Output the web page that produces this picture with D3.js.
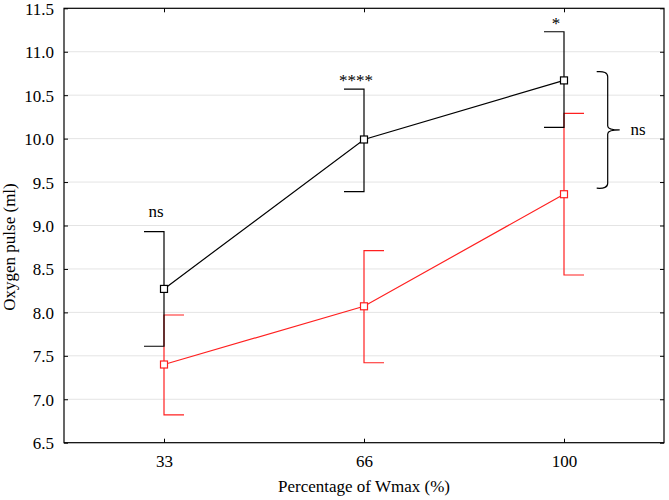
<!DOCTYPE html>
<html>
<head>
<meta charset="utf-8">
<script src="https://cdn.jsdelivr.net/npm/d3@7"></script>
<style>
  html, body { margin: 0; padding: 0; background: #fff; }
  svg { display: block; }
  text { font-family: "Liberation Serif", "Times New Roman", serif; fill: #000; }
</style>
</head>
<body>
<svg id="chart" width="669" height="500"></svg>
<script>
// ---- data ----
const categories = ["33", "66", "100"];
const blackMean  = [8.27, 9.99, 10.67];
const blackUpper = [8.93, 10.57, 11.23];
const blackLower = [7.61, 9.39, 10.13];
const redMean    = [7.40, 8.07, 9.36];
const redUpper   = [7.97, 8.71, 10.29];
const redLower   = [6.82, 7.42, 8.43];
const sigLabels  = ["ns", "****", "*"];
const yTicks     = [6.5, 7.0, 7.5, 8.0, 8.5, 9.0, 9.5, 10.0, 10.5, 11.0, 11.5];
const bracketRange = [9.43, 10.77];
const bracketLabel = "ns";
const xTitle = "Percentage of Wmax (%)";
const yTitle = "Oxygen pulse (ml)";

// ---- layout ----
const svg = d3.select("#chart");
const L = 64, R = 664, T = 8.3, B = 442.7;
const x = d3.scalePoint().domain(categories).range([L, R]).padding(0.5);
const y = d3.scaleLinear().domain([6.5, 11.5]).range([B, T]);
const fs = 17;
const capW = 20;

// gridlines
svg.append("g").selectAll("line").data(yTicks.filter(v => v > 6.5 && v < 11.5)).join("line")
  .attr("x1", L).attr("x2", R)
  .attr("y1", d => y(d)).attr("y2", d => y(d))
  .attr("stroke", "#e4e4e4").attr("stroke-width", 1);

// frame
svg.append("rect").attr("x", L).attr("y", T).attr("width", R - L).attr("height", B - T)
  .attr("fill", "none").attr("stroke", "#000").attr("stroke-width", 1.2);

// axes
const yAxisL = d3.axisLeft(y).tickValues(yTicks).tickSizeInner(-4).tickSizeOuter(0).tickPadding(10)
  .tickFormat(d3.format(".1f"));
const gL = svg.append("g").attr("transform", `translate(${L},0)`).call(yAxisL);
const yAxisR = d3.axisRight(y).tickValues(yTicks).tickSizeInner(-4).tickSizeOuter(0).tickFormat("");
const gR = svg.append("g").attr("transform", `translate(${R},0)`).call(yAxisR);
const xAxisB = d3.axisBottom(x).tickSizeInner(-4).tickSizeOuter(0).tickPadding(12);
const gB = svg.append("g").attr("transform", `translate(0,${B})`).call(xAxisB);
const xAxisT = d3.axisTop(x).tickSizeInner(-4).tickSizeOuter(0).tickFormat("");
const gT = svg.append("g").attr("transform", `translate(0,${T})`).call(xAxisT);
[gL, gR, gB, gT].forEach(g => {
  g.select(".domain").remove();
  g.selectAll(".tick line").attr("stroke", "#000");
  g.selectAll("text").attr("font-size", fs).attr("font-family", "Liberation Serif").attr("fill", "#000");
});
gL.selectAll("text").attr("dy", "0.35em");

// axis titles
svg.append("text").attr("x", (L + R) / 2).attr("y", 492).attr("text-anchor", "middle")
  .attr("font-size", fs).text(xTitle);
svg.append("text").attr("transform", `translate(15,247) rotate(-90)`).attr("text-anchor", "middle")
  .attr("font-size", fs).text(yTitle);

// series drawer
function drawSeries(mean, upper, lower, color, side) {
  const g = svg.append("g");
  const pts = categories.map((c, i) => ({ c, m: mean[i], u: upper[i], l: lower[i] }));
  // error bars
  pts.forEach(p => {
    const cx = x(p.c);
    const ex = cx + side * capW;
    g.append("path")
      .attr("d", `M${ex},${y(p.u)}H${cx}V${y(p.l)}H${ex}`)
      .attr("fill", "none").attr("stroke", color).attr("stroke-width", 1.2);
  });
  // line
  g.append("path").datum(pts)
    .attr("d", d3.line().x(d => x(d.c)).y(d => y(d.m)))
    .attr("fill", "none").attr("stroke", color).attr("stroke-width", 1.2);
  // markers
  g.selectAll("rect").data(pts).join("rect")
    .attr("x", d => x(d.c) - 3.5).attr("y", d => y(d.m) - 3.5)
    .attr("width", 7).attr("height", 7)
    .attr("fill", "#fff").attr("stroke", color).attr("stroke-width", 1.2);
}
drawSeries(redMean, redUpper, redLower, "#ff2020", 1);
drawSeries(blackMean, blackUpper, blackLower, "#000", -1);

// significance labels above black caps
svg.append("g").selectAll("text").data(sigLabels).join("text")
  .attr("x", (d, i) => x(categories[i]) - capW / 2 + 2)
  .attr("y", (d, i) => y(blackUpper[i]) - (d === "ns" ? 15 : 3))
  .attr("text-anchor", "middle").attr("font-size", fs)
  .text(d => d);

// bracket between end points
const bx = 607.7;
const bTop = y(bracketRange[1]), bBot = y(bracketRange[0]);
const bMid = (bTop + bBot) / 2;
svg.append("path")
  .attr("d", `M${bx - 11},${bTop} Q${bx},${bTop - 1} ${bx},${bTop + 5}
              V${bMid - 4} Q${bx},${bMid} ${bx + 12},${bMid}
              Q${bx},${bMid} ${bx},${bMid + 4}
              V${bBot - 5} Q${bx},${bBot + 1} ${bx - 11},${bBot}`)
  .attr("fill", "none").attr("stroke", "#000").attr("stroke-width", 1.2);
svg.append("text").attr("x", 638).attr("y", bMid).attr("dy", "0.3em")
  .attr("text-anchor", "middle").attr("font-size", fs).text(bracketLabel);
</script>
</body>
</html>
